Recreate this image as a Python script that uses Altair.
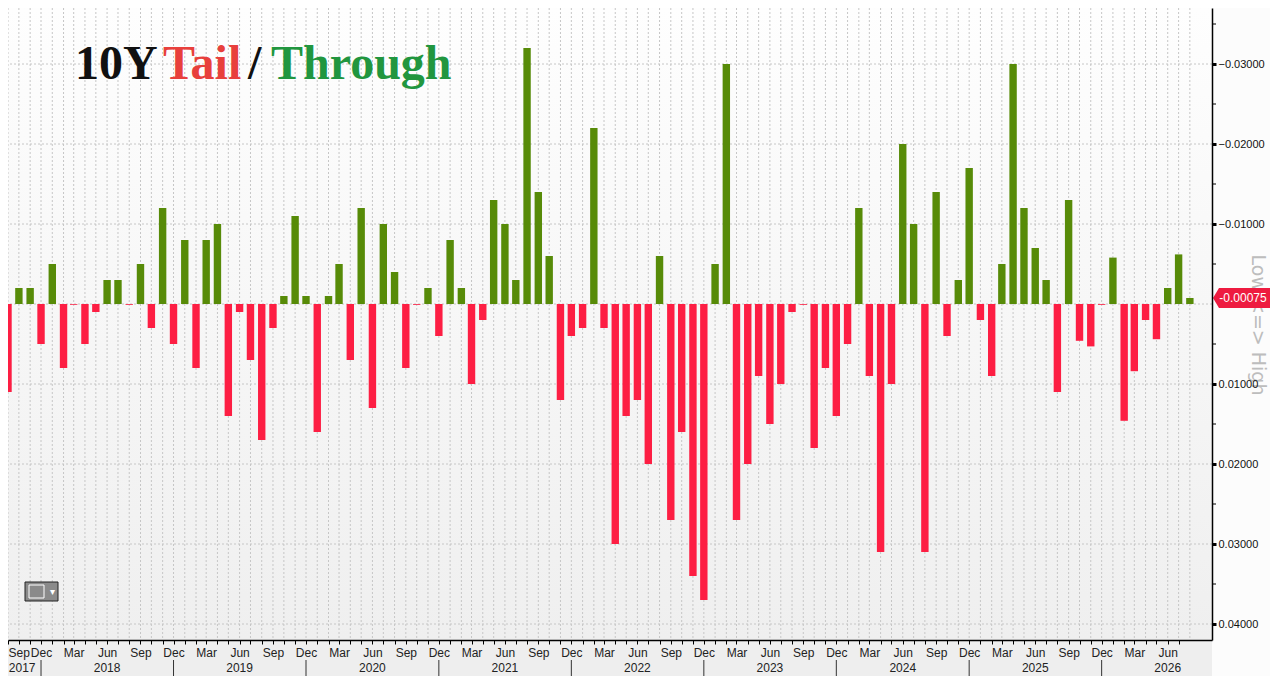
import altair as alt
import pandas as pd

# ---- data (auction tail (+) / through (-)), monthly from Sep 2017 ----
tail_values = [
    0.011, -0.002, -0.002, 0.005, -0.005, 0.008, 0.0001, 0.005, 0.001, -0.003,
    -0.003, 0.0001, -0.005, 0.003, -0.012, 0.005, -0.008, 0.008, -0.008, -0.010,
    0.014, 0.001, 0.007, 0.017, 0.003, -0.001, -0.011, -0.001, 0.016, -0.001,
    -0.005, 0.007, -0.012, 0.013, -0.010, -0.004, 0.008, 0.0001, -0.002, 0.004,
    -0.008, -0.002, 0.010, 0.002, -0.013, -0.010, -0.003, -0.032, -0.014, -0.006,
    0.012, 0.004, 0.003, -0.022, 0.003, 0.030, 0.014, 0.012, 0.020, -0.006,
    0.027, 0.016, 0.034, 0.037, -0.005, -0.030, 0.027, 0.020, 0.009, 0.015,
    0.010, 0.001, 0.0001, 0.018, 0.008, 0.014, 0.005, -0.012, 0.009, 0.031,
    0.010, -0.020, -0.010, 0.031, -0.014, 0.004, -0.003, -0.017, 0.002, 0.009,
    -0.005, -0.030, -0.012, -0.007, -0.003, 0.011, -0.013, 0.0046, 0.0053, 0.0001,
    -0.0058, 0.0146, 0.0084, 0.002, 0.0044, -0.002, -0.0062, -0.00075,
]
month_index = pd.date_range("2017-09-01", periods=len(tail_values), freq="MS")
month_dates = [d.strftime("%Y-%m-%d") for d in month_index]
tick_months = month_index[:-1]  # month ticks run Sep 2017 .. Jul 2026
year_labels = ["2017", "2018", "2019", "2020", "2021", "2022", "2023", "2024", "2025", "2026"]
year_label_dates = ["2017-10-10", "2018-06-01", "2019-06-01", "2020-06-01", "2021-06-01",
                    "2022-06-01", "2023-06-01", "2024-06-01", "2025-06-01", "2026-06-01"]
year_break_dates = ["2017-12-01", "2018-12-01", "2019-12-01", "2020-12-01", "2021-12-01",
                    "2022-12-01", "2023-12-01", "2024-12-01", "2025-12-01"]
y_tick_values = [-0.03, -0.02, -0.01, 0.01, 0.02, 0.03, 0.04]
y_grid_values = [-0.03, -0.02, -0.01, 0.0, 0.01, 0.02, 0.03, 0.04]
y_minor_values = [-0.035, -0.025, -0.015, -0.005, 0.005, 0.015, 0.025, 0.035]
title_parts = ["10Y", "Tail", "/", "Through"]
title_colors = ["#111111", "#e8403c", "#111111", "#21963f"]
side_label = "Low <=> High"

# ---- styling ----
W, H = 1204, 632
PAD_B = 36
GREEN = "#578b08"
RED = "#fd1e43"
TAG_RED = "#ee1b40"
GRID = "#c6c6c6"
AXFONT = "Liberation Sans"

x_scale = alt.Scale(type="utc", padding=0, nice=False,
                    domain=[alt.DateTime(year=2017, month=9, date=1, utc=True),
                            alt.DateTime(year=2026, month=10, date=1, utc=True)])
y_scale = alt.Scale(domain=[-0.037, 0.042], reverse=True, nice=False, zero=False)

x_axis = alt.Axis(orient="bottom", title=None, grid=False,
                  values=[alt.DateTime(year=d.year, month=d.month, date=1, utc=True)
                          for d in tick_months],
                  labelExpr="utcmonth(datum.value) % 3 == 2 ? utcFormat(datum.value, '%b') : ''",
                  labelOverlap=False, labelFlush=True, labelFont=AXFONT, labelFontSize=12,
                  labelColor="#222222", labelPadding=3, tickSize=4, tickColor="#000000",
                  domainColor="#000000", domainWidth=1.5, zindex=1)
y_axis = alt.Axis(orient="right", title=None, grid=False, values=y_tick_values,
                  format=".5f", labelFont=AXFONT, labelFontSize=11, labelColor="#111111",
                  labelPadding=2, tickSize=4, tickWidth=3, tickColor="#000000",
                  domainColor="#000000", domainWidth=1.5, zindex=1)

X = alt.X("date:T", scale=x_scale, axis=x_axis)
Y = alt.Y("value:Q", scale=y_scale, axis=y_axis)

df = pd.DataFrame({"date": month_dates, "value": tail_values})
one = pd.DataFrame({"k": [0]})

background = alt.Chart(one).mark_rect(
    color=alt.Gradient(gradient="linear", x1=0, x2=0, y1=0, y2=1,
                       stops=[alt.GradientStop(color="#fefefe", offset=0),
                              alt.GradientStop(color="#efefef", offset=1)])
).encode(x=alt.value(0), x2=alt.value(W), y=alt.value(0), y2=alt.value(H))

bottom_strip = alt.Chart(one).mark_rect(color="#eeeeee").encode(
    x=alt.value(0), x2=alt.value(W), y=alt.value(H), y2=alt.value(H + PAD_B))

vgrid = alt.Chart(df).mark_rule(color=GRID, strokeDash=[2, 2], strokeWidth=1, clip=True).encode(x=X)
hgrid = alt.Chart(pd.DataFrame({"value": y_grid_values})).mark_rule(
    color=GRID, strokeDash=[2, 2], strokeWidth=1).encode(y=Y)

minor_ticks = alt.Chart(pd.DataFrame({"value": y_minor_values})).mark_rule(
    color="#000000", strokeWidth=1).encode(y=Y, x=alt.value(W), x2=alt.value(W + 4))

bars = alt.Chart(df).mark_bar(width=7.4, clip=True).encode(
    x=X, y=Y, y2=alt.datum(0),
    color=alt.condition("datum.value < 0", alt.value(GREEN), alt.value(RED)),
)

# multi-coloured title
title_x = [67, 155, 240, 263]
title_layers = []
for part, col, px in zip(title_parts, title_colors, title_x):
    title_layers.append(alt.Chart(one).mark_text(
        font="Liberation Serif", fontWeight="bold", fontSize=48, align="left",
        baseline="alphabetic", color=col
    ).encode(x=alt.value(px), y=alt.value(71), text=alt.value(part)))

# small chart-type button in the lower left
button = alt.Chart(one).mark_rect(color="#8a8a8a", stroke="#222222", strokeWidth=1).encode(
    x=alt.value(17), x2=alt.value(50), y=alt.value(574), y2=alt.value(593))
button_icon = alt.Chart(one).mark_rect(fill="#8a8a8a", stroke="#ffffff", strokeWidth=1).encode(
    x=alt.value(21), x2=alt.value(36), y=alt.value(577), y2=alt.value(590))
button_arrow = alt.Chart(one).mark_text(text="▾", color="#ffffff", fontSize=10).encode(
    x=alt.value(44), y=alt.value(584))

# year row under the month labels
year_breaks = alt.Chart(pd.DataFrame({"date": year_break_dates})).mark_rule(
    color="#333333", strokeWidth=1).encode(x=X, y=alt.value(H + 20), y2=alt.value(H + PAD_B))
years = alt.Chart(pd.DataFrame({"date": year_label_dates, "label": year_labels})).mark_text(
    font=AXFONT, fontSize=12, color="#222222", baseline="middle").encode(
    x=X, y=alt.value(H + 28), text="label:N")

# last value tag
last = pd.DataFrame({"value": [tail_values[-1]], "label": [f"{tail_values[-1]:.5f}"]})
tag = alt.Chart(last).mark_point(
    shape="M-3.1,0 L-2.5,-1 L2.9,-1 L2.9,1 L-2.5,1 Z", size=400, filled=True,
    color=TAG_RED, opacity=1, strokeWidth=0).encode(x=alt.value(W + 32), y=Y)
tag_text = alt.Chart(last).mark_text(font=AXFONT, fontSize=12, color="#ffffff",
                                     baseline="middle", align="center").encode(
    x=alt.value(W + 31), y=Y, text="label:N")

side = alt.Chart(one).mark_text(font="DejaVu Sans", fontSize=19, color="#bdbdbd", angle=90,
                                align="center", baseline="middle").encode(
    x=alt.value(W + 46), y=alt.value(317), text=alt.value(side_label))

chart = alt.layer(
    background, bottom_strip, vgrid, hgrid, bars, minor_ticks,
    *title_layers, button, button_icon, button_arrow,
    year_breaks, years, side, tag, tag_text,
).properties(
    width=W, height=H, background="#fcfcfc",
    padding={"left": 0, "top": 0, "right": 58, "bottom": PAD_B},
    autosize=alt.AutoSizeParams(type="none"),
).configure_view(stroke=None)

chart.save("out.html", embed_options={"renderer": "svg", "actions": False})
